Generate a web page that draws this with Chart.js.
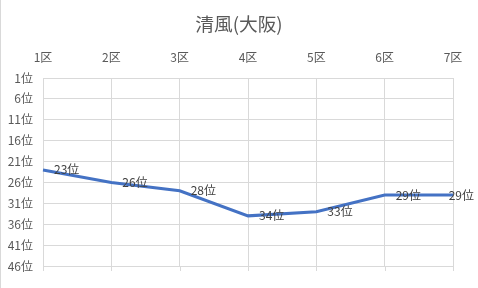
<!DOCTYPE html>
<html>
<head>
<meta charset="utf-8">
<script src="https://cdn.jsdelivr.net/npm/chart.js@4"></script>
<style>
  html, body { margin: 0; padding: 0; background: #fff; }
  #chart { display: block; }
</style>
</head>
<body>
<canvas id="chart" width="478" height="288"></canvas>
<script>
const titleText = "清風(大阪)";
const sections = ["1区", "2区", "3区", "4区", "5区", "6区", "7区"];
const ranks = [23, 26, 28, 34, 33, 29, 29];
const rankTicks = [1, 6, 11, 16, 21, 26, 31, 36, 41, 46];

const fontFamily = "'Noto Sans CJK JP', 'Noto Sans', sans-serif";

// title, left border, bottom tick marks, data labels
const extras = {
  id: "extras",
  afterDraw(chart) {
    const ctx = chart.ctx;
    const area = chart.chartArea;
    const xs = chart.scales.x;
    ctx.save();

    ctx.strokeStyle = "#d9d9d9";
    ctx.lineWidth = 1;
    ctx.beginPath();
    ctx.moveTo(0.5, 0);
    ctx.lineTo(0.5, chart.height);
    ctx.stroke();

    ctx.beginPath();
    sections.forEach((_, i) => {
      const x = Math.round(xs.getPixelForValue(i)) + 0.5;
      ctx.moveTo(x, area.bottom);
      ctx.lineTo(x, area.bottom + 5);
    });
    ctx.stroke();

    ctx.fillStyle = "#595959";
    ctx.font = "18.7px " + fontFamily;
    ctx.textAlign = "center";
    ctx.textBaseline = "middle";
    ctx.fillText(titleText, chart.width / 2, 24);

    ctx.fillStyle = "#404040";
    ctx.font = "12px " + fontFamily;
    ctx.textAlign = "left";
    const meta = chart.getDatasetMeta(0);
    meta.data.forEach((pt, i) => {
      const label = ranks[i] + "位";
      const w = ctx.measureText(label).width;
      let lx = pt.x + 11;
      if (lx + w > chart.width - 4) lx = chart.width - 4 - w;
      ctx.fillText(label, lx, pt.y);
    });
    ctx.restore();
  }
};

new Chart(document.getElementById("chart"), {
  type: "line",
  data: {
    labels: sections,
    datasets: [{
      data: ranks,
      borderColor: "#4472C4",
      borderWidth: 3,
      pointRadius: 0,
      tension: 0,
      fill: false
    }]
  },
  options: {
    responsive: false,
    animation: false,
    layout: { padding: { left: 0, right: 25, top: 0, bottom: 22 } },
    plugins: {
      legend: { display: false },
      title: { display: false },
      tooltip: { enabled: false }
    },
    scales: {
      x: {
        position: "top",
        offset: false,
        afterFit(scale) { scale.height = 78; },
        grid: { color: "#d9d9d9", drawTicks: false },
        border: { display: false },
        ticks: {
          color: "#595959",
          font: { size: 12, family: fontFamily },
          padding: 13,
          maxRotation: 0
        }
      },
      y: {
        reverse: true,
        min: 1,
        max: 46,
        afterFit(scale) { scale.width = 43; },
        afterBuildTicks(scale) {
          scale.ticks = rankTicks.map(v => ({ value: v }));
        },
        grid: { color: "#d9d9d9", drawTicks: false },
        border: { display: false },
        ticks: {
          color: "#595959",
          font: { size: 12, family: fontFamily },
          padding: 10,
          callback: v => v + "位"
        }
      }
    }
  },
  plugins: [extras]
});
</script>
</body>
</html>
